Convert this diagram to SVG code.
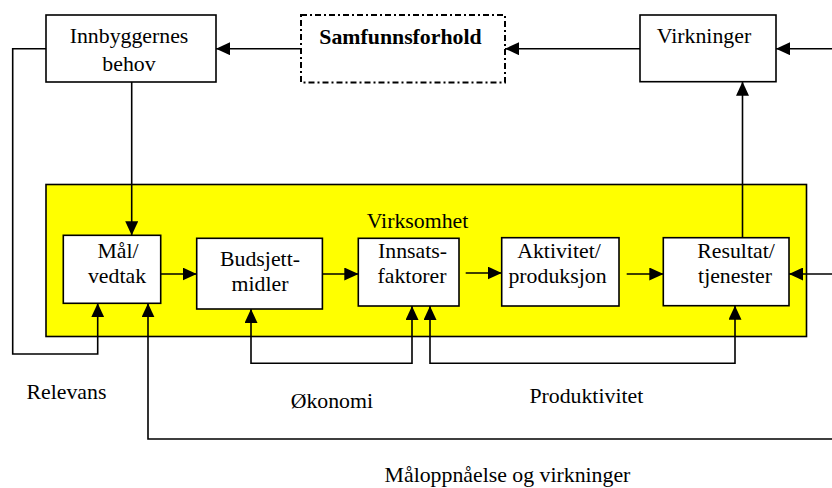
<svg xmlns="http://www.w3.org/2000/svg" width="832" height="488" viewBox="0 0 832 488">
<style>
  .box { fill: #ffffff; stroke: #000000; stroke-width: 1.6; }
  .dash { fill: #ffffff; stroke: #000000; stroke-width: 2; stroke-dasharray: 6 3 2 3; }
  .area { fill: #ffff00; stroke: #000000; stroke-width: 1.6; }
  text { font-family: "Liberation Serif", "Times New Roman", serif; font-size: 21.8px; fill: #000000; }
  .c { text-anchor: middle; }
  .b { font-weight: bold; }
  .conn { fill: none; stroke: #000000; stroke-width: 1.6; }
</style>
<defs>
  <marker id="ah" markerUnits="userSpaceOnUse" markerWidth="14" markerHeight="13" refX="14" refY="6.5" orient="auto-start-reverse">
    <path d="M0,0 L14,6.5 L0,13 Z" fill="#000000"/>
  </marker>
</defs>
<rect width="832" height="488" fill="#ffffff"/>

<g id="virksomhet">
  <rect class="area" x="46" y="184.5" width="760.5" height="152"/>
  <text class="c" x="417.5" y="228.3">Virksomhet</text>
</g>

<g id="innbyggernes-behov">
  <rect class="box" x="46" y="15" width="170" height="67"/>
  <text class="c" x="129" y="43">Innbyggernes</text>
  <text class="c" x="129" y="70.7">behov</text>
</g>

<g id="samfunnsforhold">
  <rect class="dash" x="301" y="15" width="204" height="67.5"/>
  <text class="c b" x="400.5" y="44">Samfunnsforhold</text>
</g>

<g id="virkninger">
  <rect class="box" x="640" y="15" width="136" height="66.7"/>
  <text class="c" x="704" y="43.3">Virkninger</text>
</g>

<g id="maal-vedtak">
  <rect class="box" x="63.3" y="235.3" width="97.4" height="68"/>
  <text class="c" x="118" y="258.3">Mål/</text>
  <text class="c" x="117" y="283.3">vedtak</text>
</g>

<g id="budsjettmidler">
  <rect class="box" x="196.7" y="238.3" width="125.7" height="70.7"/>
  <text class="c" x="260" y="265.7">Budsjett-</text>
  <text class="c" x="260" y="290.7">midler</text>
</g>

<g id="innsatsfaktorer">
  <rect class="box" x="358.3" y="238.3" width="100.7" height="67.7"/>
  <text class="c" x="412.5" y="258.3">Innsats-</text>
  <text class="c" x="412" y="283.3">faktorer</text>
</g>

<g id="aktivitet-produksjon">
  <rect class="box" x="501.7" y="237.7" width="117.3" height="68.3"/>
  <text class="c" x="559" y="258.3">Aktivitet/</text>
  <text class="c" x="557.5" y="283.3">produksjon</text>
</g>

<g id="resultat-tjenester">
  <rect class="box" x="663.3" y="237.7" width="125.7" height="68"/>
  <text class="c" x="736" y="258.3">Resultat/</text>
  <text class="c" x="735" y="283.3">tjenester</text>
</g>

<g id="connectors">
  <path class="conn" d="M301,48.7 L216,48.7" marker-end="url(#ah)"/>
  <path class="conn" d="M640,48.7 L505,48.7" marker-end="url(#ah)"/>
  <path class="conn" d="M832,48.7 L776,48.7" marker-end="url(#ah)"/>
  <path class="conn" d="M742.5,237.7 L742.5,81.7" marker-end="url(#ah)"/>
  <path class="conn" d="M131.7,82 L131.7,235.3" marker-end="url(#ah)"/>
  <path class="conn" d="M160.7,274 L196.7,274" marker-end="url(#ah)"/>
  <path class="conn" d="M322.4,274 L358.3,274" marker-end="url(#ah)"/>
  <path class="conn" d="M465.7,273 L501.7,273" marker-end="url(#ah)"/>
  <path class="conn" d="M626.7,274 L663.3,274" marker-end="url(#ah)"/>
  <path class="conn" d="M832,274 L789,274" marker-end="url(#ah)"/>
  <path class="conn" d="M46,48.7 L12.7,48.7 L12.7,354 L97.7,354 L97.7,303.3" marker-end="url(#ah)"/>
  <path class="conn" d="M832,439 L148,439 L148,303.3" marker-end="url(#ah)"/>
  <path class="conn" d="M251,309 L251,363.3 L412,363.3 L412,306" marker-start="url(#ah)" marker-end="url(#ah)"/>
  <path class="conn" d="M430,306 L430,363.3 L735,363.3 L735,305.7" marker-start="url(#ah)" marker-end="url(#ah)"/>
</g>

<g id="labels">
  <text x="26.5" y="399.3">Relevans</text>
  <text x="290.7" y="408.3">Økonomi</text>
  <text x="529.4" y="402.7">Produktivitet</text>
  <text x="384.6" y="481.7">Måloppnåelse og virkninger</text>
</g>
</svg>
